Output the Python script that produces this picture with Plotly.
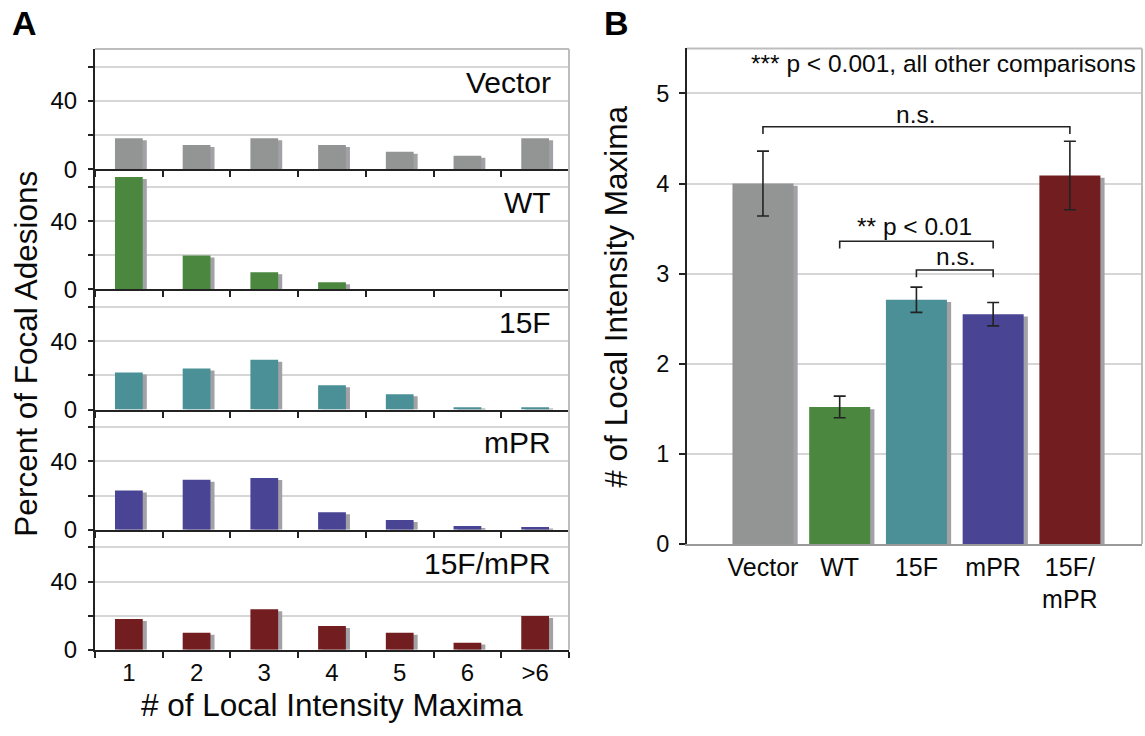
import numpy as np
import plotly.graph_objects as go

# ---------------- data ----------------
maxima_cats = ["1", "2", "3", "4", "5", "6", ">6"]
groups = ["Vector", "WT", "15F", "mPR", "15F/mPR"]
pct_vector = [18.2, 14.2, 18.2, 14.2, 10.2, 7.9, 18.2]
pct_wt = [65.9, 19.8, 10.0, 4.2, 0, 0, 0]
pct_15f = [21.7, 24.0, 29.2, 14.2, 9.0, 1.3, 1.3]
pct_mpr = [22.9, 29.2, 30.3, 10.2, 5.6, 2.1, 1.5]
pct_15fmpr = [18.1, 10.0, 23.8, 14.0, 10.0, 4.2, 19.8]

b_labels = ["Vector", "WT", "15F", "mPR", "15F/<br>mPR"]
b_means = [4.00, 1.52, 2.71, 2.55, 4.09]
b_errs = [0.36, 0.12, 0.14, 0.13, 0.38]

colors = ["#939594", "#4b873f", "#4a9096", "#4a4494", "#721e20"]
shadow_col = "#a2a2a6"
FONT = "Arial, Liberation Sans, Helvetica, sans-serif"
TXT = "#0a0a0a"

W, H = 1145, 736
def px_x(p): return p / W
def px_y(p): return 1 - p / H

fig = go.Figure()

# ---------------- panel A ----------------
a_left, a_right = 95, 569
a_top0, a_h = 50, 122.3
panel_vals = [pct_vector, pct_wt, pct_15f, pct_mpr, pct_15fmpr]
bw_a = 0.41
for k, vals in enumerate(panel_vals):
    n = k + 1
    xa = "x" if n == 1 else f"x{n}"
    ya = "y" if n == 1 else f"y{n}"
    v = np.array(vals, dtype=float)
    shadow = np.clip(v - 1.15, 0, None)
    fig.add_trace(go.Bar(x=maxima_cats, y=shadow, xaxis=xa, yaxis=ya,
                         width=bw_a, offset=-bw_a / 2 + 0.06,
                         marker=dict(color=shadow_col, line=dict(width=0)),
                         hoverinfo="skip"))
    fig.add_trace(go.Bar(x=maxima_cats, y=v, xaxis=xa, yaxis=ya,
                         width=bw_a, offset=-bw_a / 2,
                         marker=dict(color=colors[k], line=dict(width=0)),
                         name=groups[k]))
    top = a_top0 + a_h * k
    bot = top + a_h
    xkey = "xaxis" if n == 1 else f"xaxis{n}"
    ykey = "yaxis" if n == 1 else f"yaxis{n}"
    fig.update_layout(**{
        xkey: dict(domain=[px_x(a_left), px_x(a_right)], anchor=ya,
                   type="category", categoryorder="array", categoryarray=maxima_cats,
                   tickson="boundaries", ticks="outside", ticklen=6, tickwidth=1.5,
                   tickcolor="#222", showline=True, linecolor="#222", linewidth=2,
                   showgrid=False, showticklabels=(n == 5),
                   tickfont=dict(family=FONT, size=24, color=TXT),
                   fixedrange=True),
        ykey: dict(domain=[px_y(bot), px_y(top)], anchor=xa, range=[0, 70.4],
                   tickvals=[0, 20, 40, 60], ticktext=["0", "", "40", ""],
                   ticks="outside", ticklen=5, tickwidth=1.5, tickcolor="#222",
                   ticklabelstandoff=6,
                   showline=True, linecolor="#222", linewidth=2,
                   showgrid=True, gridcolor="#d6d6d6", gridwidth=1.5,
                   zeroline=False,
                   tickfont=dict(family=FONT, size=24, color=TXT),
                   fixedrange=True),
    })
    fig.add_annotation(xref="paper", yref="paper", x=px_x(553), y=px_y(top + 34),
                       text=groups[k], showarrow=False, xanchor="right", yanchor="middle",
                       font=dict(family=FONT, size=30, color=TXT))

# panel A borders (top + right)
a_bottom = a_top0 + 5 * a_h
fig.add_shape(type="line", xref="paper", yref="paper", x0=px_x(a_left), x1=px_x(a_right),
              y0=px_y(a_top0), y1=px_y(a_top0), line=dict(color="#bdbdbd", width=2))
fig.add_shape(type="line", xref="paper", yref="paper", x0=px_x(a_right), x1=px_x(a_right),
              y0=px_y(a_top0), y1=px_y(a_bottom), line=dict(color="#bdbdbd", width=2))

# panel A titles
fig.add_annotation(xref="paper", yref="paper", x=px_x(26), y=px_y(360),
                   text="Percent of Focal Adesions", textangle=-90, showarrow=False,
                   xanchor="center", yanchor="middle",
                   font=dict(family=FONT, size=31.5, color=TXT))
fig.add_annotation(xref="paper", yref="paper", x=px_x((a_left + a_right) / 2), y=px_y(718),
                   text="# of Local Intensity Maxima", showarrow=False,
                   xanchor="center", yanchor="middle",
                   font=dict(family=FONT, size=31.5, color=TXT))

# ---------------- panel B ----------------
b_left, b_right, b_top, b_bot = 687, 1142, 49.3, 553.7
bw_b = 0.795
xb = list(range(len(b_means)))
bm = np.array(b_means)
fig.add_trace(go.Bar(x=xb, y=bm - 0.025, xaxis="x6", yaxis="y6", width=bw_b,
                     offset=-bw_b / 2 + 0.055,
                     marker=dict(color=shadow_col, line=dict(width=0)), hoverinfo="skip"))
fig.add_trace(go.Bar(x=xb, y=bm, xaxis="x6", yaxis="y6", width=bw_b, offset=-bw_b / 2,
                     marker=dict(color=colors, line=dict(width=0)),
                     error_y=dict(type="data", array=b_errs, color="#222",
                                  thickness=1.6, width=6)))
fig.update_layout(
    xaxis6=dict(domain=[px_x(b_left), px_x(b_right)], anchor="y6", range=[-0.99, 4.94],
                tickvals=xb, ticktext=b_labels, ticks="", showline=True,
                linecolor="#9a9a9a", linewidth=2, showgrid=False, zeroline=False,
                tickfont=dict(family=FONT, size=25, color=TXT), fixedrange=True),
    yaxis6=dict(domain=[px_y(b_bot), px_y(b_top)], anchor="x6", range=[0, 5.5],
                tickvals=[0, 1, 2, 3, 4, 5], ticks="outside", ticklen=6, tickwidth=1.5,
                ticklabelstandoff=5,
                tickcolor="#222", showline=True, linecolor="#222", linewidth=2,
                showgrid=True, gridcolor="#d6d6d6", gridwidth=1.5, zeroline=False,
                tickfont=dict(family=FONT, size=23.5, color=TXT), fixedrange=True),
)
fig.add_shape(type="line", xref="paper", yref="paper", x0=px_x(b_left), x1=px_x(b_right),
              y0=px_y(b_top), y1=px_y(b_top), line=dict(color="#bdbdbd", width=2))
fig.add_shape(type="line", xref="paper", yref="paper", x0=px_x(b_right), x1=px_x(b_right),
              y0=px_y(b_top), y1=px_y(b_bot), line=dict(color="#bdbdbd", width=2))

# significance brackets: (from, to, height, label, label x, label y)
brackets = [
    (0, 4, 4.63, "n.s.", 2.0, 4.77),
    (1, 3, 3.36, "** p < 0.01", 1.97, 3.52),
    (2, 3, 3.04, "n.s.", 2.52, 3.19),
]
for x0, x1, yb, lab, lx, ly in brackets:
    fig.add_shape(type="path", xref="x6", yref="y6",
                  path=f"M {x0},{yb - 0.08} L {x0},{yb} L {x1},{yb} L {x1},{yb - 0.08}",
                  line=dict(color="#222", width=1.6))
    fig.add_annotation(xref="x6", yref="y6", x=lx, y=ly, text=lab, showarrow=False,
                       xanchor="center", yanchor="middle",
                       font=dict(family=FONT, size=24.5, color=TXT))

fig.add_annotation(xref="paper", yref="paper", x=px_x(1138), y=px_y(65),
                   text="*** p < 0.001, all other comparisons", showarrow=False,
                   xanchor="right", yanchor="middle",
                   font=dict(family=FONT, size=24.5, color=TXT))
fig.add_annotation(xref="paper", yref="paper", x=px_x(616), y=px_y(302),
                   text="# of Local Intensity Maxima", textangle=-90, showarrow=False,
                   xanchor="center", yanchor="middle",
                   font=dict(family=FONT, size=31.5, color=TXT))

# panel letters
fig.add_annotation(xref="paper", yref="paper", x=px_x(24), y=px_y(23), text="<b>A</b>",
                   showarrow=False, xanchor="center", yanchor="middle",
                   font=dict(family=FONT, size=34, color="#000"))
fig.add_annotation(xref="paper", yref="paper", x=px_x(617), y=px_y(23), text="<b>B</b>",
                   showarrow=False, xanchor="center", yanchor="middle",
                   font=dict(family=FONT, size=34, color="#000"))

fig.update_layout(width=W, height=H, margin=dict(l=0, r=0, t=0, b=0),
                  plot_bgcolor="white", paper_bgcolor="white",
                  barmode="overlay", showlegend=False)

fig.write_html("out.html")
